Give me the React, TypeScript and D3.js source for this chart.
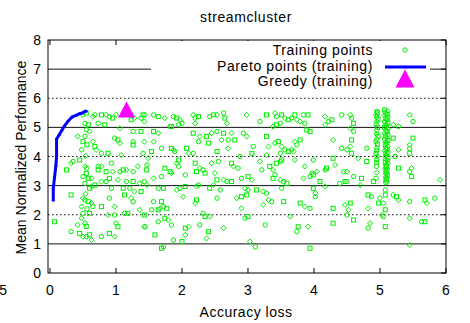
import * as d3 from 'd3';

// training points [accuracy loss, mean normalized performance]
const trainingPoints: [number, number][] = [
  [0.5, 5.43], [0.55, 5.49], [0.65, 5.37], [0.68, 5.43], [0.78, 5.43], [0.85, 5.43], [0.9, 5.37], [0.95, 5.32],
  [1.0, 5.43], [1.11, 5.43], [1.23, 5.26], [1.28, 5.32], [1.38, 5.32], [1.41, 5.43], [1.43, 5.2],
  [0.53, 5.14], [0.58, 5.09], [0.6, 4.86], [0.73, 5.14], [0.83, 5.09], [1.06, 4.97], [1.26, 4.86], [1.38, 4.86],
  [0.42, 4.69], [0.53, 4.69], [0.5, 4.51], [0.65, 4.51], [0.98, 4.63], [1.03, 4.57], [1.06, 4.46], [1.26, 4.51],
  [1.26, 4.4], [1.43, 4.51], [0.48, 4.23], [0.68, 4.34], [0.7, 4.23], [0.78, 4.11], [0.88, 4.11], [1.08, 4.05],
  [1.41, 4.11], [0.45, 3.88], [0.32, 3.77], [0.35, 3.83], [0.25, 3.54], [0.53, 3.66], [0.73, 3.66], [0.73, 3.54],
  [0.78, 3.66], [0.93, 3.77], [0.85, 3.48], [0.95, 3.48], [1.06, 3.48], [1.11, 3.54], [1.16, 3.54], [1.26, 3.48],
  [1.46, 3.54], [1.33, 3.66], [0.5, 3.31], [0.58, 3.25], [0.63, 3.25], [0.53, 3.08], [0.68, 3.02], [0.78, 3.14],
  [0.85, 3.14], [0.9, 3.25], [1.03, 3.2], [1.16, 3.14], [1.26, 3.14], [1.36, 3.08], [1.43, 3.14],
  [0.6, 2.91], [0.63, 2.97], [0.93, 2.91], [1.11, 2.91], [1.28, 2.8], [1.21, 2.91],
  [0.32, 2.68], [0.5, 2.57], [0.53, 2.51], [0.58, 2.45], [0.63, 2.4], [0.9, 2.57], [1.13, 2.68], [1.23, 2.57],
  [1.26, 2.45], [1.38, 2.8], [0.48, 2.28], [0.65, 2.28], [0.78, 2.28], [0.98, 2.28], [1.13, 2.05], [1.18, 2.05],
  [1.36, 2.17], [0.5, 2.05], [0.6, 2.05], [0.88, 1.99], [0.98, 1.99], [1.43, 1.99], [0.48, 1.88], [0.53, 1.71],
  [0.07, 1.76], [0.42, 1.65], [1.0, 1.71], [1.03, 1.59], [1.43, 1.59], [0.32, 1.42], [0.45, 1.36], [0.5, 1.25],
  [0.55, 1.25], [0.6, 1.31], [0.63, 1.13], [0.78, 1.25], [0.9, 1.36], [0.98, 1.25],
  [0.55, 4.92], [0.56, 4.4], [0.54, 4.02], [0.56, 3.6], [0.55, 3.42], [0.54, 2.72], [0.56, 2.2], [0.55, 1.6],
  [1.44, 5.43], [1.57, 5.43], [1.64, 5.37], [1.74, 5.32], [1.87, 5.37], [1.92, 5.32], [1.97, 5.26], [2.0, 5.14],
  [1.84, 5.03], [2.17, 5.43], [2.2, 5.32], [2.25, 5.37], [2.2, 5.14], [2.42, 5.37], [2.48, 5.43], [2.53, 5.43],
  [2.63, 5.49], [2.65, 5.32], [2.68, 5.14], [1.95, 5.09], [1.57, 4.86], [1.64, 4.8], [1.82, 5.03], [2.17, 4.8],
  [2.27, 4.69], [2.25, 4.51], [2.37, 4.69], [2.45, 4.8], [2.53, 4.86], [2.63, 4.8], [2.75, 4.8], [2.93, 4.8],
  [2.4, 4.46], [2.6, 4.57], [2.7, 4.57], [2.8, 4.57], [1.57, 4.51], [1.69, 4.28], [1.84, 4.28], [1.87, 4.23],
  [1.89, 4.17], [2.07, 4.28], [2.1, 4.11], [2.17, 4.11], [2.53, 4.17], [2.7, 4.28], [2.88, 4.0], [1.54, 4.17],
  [1.49, 3.94], [1.47, 3.71], [1.95, 3.88], [1.92, 3.77], [1.95, 3.66], [2.2, 3.77], [2.45, 3.77], [2.55, 3.83],
  [2.75, 3.77], [2.78, 3.66], [2.85, 3.6], [1.74, 3.6], [1.57, 3.25], [1.69, 3.31], [1.82, 3.48], [1.84, 3.43],
  [2.05, 3.37], [2.22, 3.48], [2.27, 3.6], [2.32, 3.54], [2.35, 3.43], [2.5, 3.43], [2.9, 3.25], [2.53, 3.2],
  [2.63, 3.2], [2.68, 3.14], [2.75, 3.14], [1.47, 3.02], [1.64, 2.91], [1.72, 2.91], [1.92, 2.85], [1.97, 2.91],
  [2.05, 2.97], [2.22, 2.97], [2.25, 3.02], [2.42, 2.91], [2.48, 3.02], [2.58, 2.85], [2.9, 2.62], [2.83, 2.57],
  [1.57, 2.45], [1.69, 2.45], [2.02, 2.62], [2.53, 2.57], [2.22, 2.51], [2.2, 2.4], [1.54, 2.17], [1.64, 2.17],
  [1.67, 2.22], [1.72, 2.28], [1.77, 2.22], [2.9, 2.22], [2.32, 2.05], [2.35, 1.94], [2.42, 1.94], [1.64, 1.76],
  [1.74, 1.88], [1.79, 1.82], [1.84, 1.65], [2.05, 1.54], [2.1, 1.59], [2.27, 1.65], [2.4, 1.42], [2.63, 1.54],
  [1.44, 1.59], [1.59, 1.31], [2.05, 1.31], [1.87, 1.13], [2.0, 1.08], [2.37, 1.19], [1.72, 0.9], [1.69, 0.85],
  [2.98, 5.43], [3.18, 5.2], [3.28, 5.43], [3.41, 5.49], [3.43, 5.37], [3.51, 5.43], [3.56, 5.32], [3.66, 5.32],
  [3.71, 5.43], [3.74, 5.26], [3.84, 5.43], [3.91, 5.43], [3.79, 5.2], [3.86, 5.14], [3.89, 4.91], [4.17, 5.37],
  [4.22, 5.2], [4.27, 5.26], [4.17, 5.09], [4.42, 5.43], [3.43, 5.09], [3.38, 5.03], [3.49, 5.14], [3.61, 5.26],
  [2.98, 4.69], [3.08, 4.34], [3.28, 4.69], [3.31, 4.34], [3.41, 4.46], [3.46, 4.51], [3.51, 4.34], [3.56, 4.23],
  [3.61, 4.17], [3.71, 4.51], [3.74, 4.4], [3.79, 4.57], [3.69, 4.17], [3.66, 4.23], [3.94, 4.86], [4.29, 4.57],
  [4.42, 4.28], [3.06, 4.11], [3.28, 4.05], [3.49, 4.11], [3.51, 3.88], [3.71, 3.88], [3.99, 3.88], [4.29, 3.94],
  [3.18, 3.83], [3.21, 3.54], [3.33, 3.66], [3.38, 3.54], [3.49, 3.83], [3.43, 3.77], [3.86, 3.66], [3.97, 3.43],
  [3.99, 3.37], [4.04, 3.48], [4.17, 3.54], [4.19, 3.6], [4.32, 3.71], [4.45, 3.48], [3.0, 3.31], [3.06, 3.2],
  [3.41, 3.37], [3.38, 3.25], [3.49, 3.2], [3.54, 3.14], [3.59, 3.08], [3.84, 3.25], [3.94, 3.31], [4.09, 3.14],
  [4.17, 2.97], [4.39, 3.08], [4.47, 3.14], [2.955, 2.91], [3.0, 2.85], [3.13, 2.85], [3.23, 2.8], [3.28, 2.74],
  [2.98, 2.68], [3.31, 2.51], [3.36, 2.45], [3.54, 2.45], [3.23, 2.34], [3.51, 2.91], [3.99, 2.91], [4.02, 2.74],
  [4.02, 2.62], [3.79, 2.4], [3.86, 2.28], [3.94, 2.22], [4.29, 2.22], [4.47, 2.34], [2.955, 1.88], [3.0, 1.94],
  [3.64, 1.94], [3.26, 1.65], [3.76, 1.59], [3.91, 1.59], [3.74, 1.42], [4.29, 1.71], [3.03, 1.08], [3.11, 0.9],
  [3.94, 0.85],
  [4.55, 5.43], [4.57, 5.32], [4.6, 5.14], [4.55, 4.97], [4.6, 4.86], [4.57, 4.57], [4.55, 4.34], [4.5, 4.23],
  [4.57, 4.11], [4.67, 3.94], [4.8, 4.28], [4.8, 3.83], [4.5, 3.48], [4.6, 3.31], [4.72, 3.25], [4.7, 3.02],
  [4.5, 3.14], [4.9, 3.14], [5.2, 5.09], [5.28, 5.03], [5.2, 4.63], [5.28, 4.23], [5.23, 4.0], [5.28, 3.6],
  [5.45, 5.43], [5.5, 5.2], [5.5, 4.63], [5.45, 4.4], [5.45, 4.28], [5.45, 4.11], [5.48, 3.6], [5.45, 3.48],
  [5.48, 3.31], [5.91, 3.2], [4.95, 3.66], [4.82, 2.68], [4.82, 2.22], [4.87, 2.62], [4.98, 2.4], [5.0, 2.57],
  [5.08, 2.85], [5.08, 2.68], [5.05, 2.4], [5.2, 2.68], [5.25, 2.62], [5.28, 2.51], [5.45, 2.45], [5.68, 2.51],
  [5.71, 2.4], [5.83, 2.57], [4.55, 2.4], [4.52, 2.17], [4.5, 1.99], [4.6, 1.82], [5.03, 1.99], [5.05, 1.94],
  [5.08, 2.17], [4.85, 1.71], [4.82, 1.54], [5.08, 1.59], [5.45, 1.88], [5.63, 1.76], [5.68, 1.76], [5.45, 0.96],
  // column near 4.95
  [4.95, 5.55], [4.96, 5.5], [4.94, 5.42], [4.95, 5.35], [4.97, 5.28], [4.95, 5.2], [4.94, 5.1], [4.96, 5.0],
  [4.95, 4.9], [4.95, 4.78], [4.97, 4.7], [4.95, 4.6], [4.94, 4.5], [4.96, 4.42], [4.95, 4.3], [4.95, 4.2],
  [4.94, 4.1], [4.96, 4.0], [4.95, 3.9], [4.95, 3.8], [4.95, 3.45], [4.94, 3.25],
  // dense column near 5.1
  [5.07, 5.6], [5.12, 5.55], [5.08, 5.5], [5.11, 5.45], [5.07, 5.4], [5.12, 5.35], [5.09, 5.3], [5.11, 5.25],
  [5.07, 5.2], [5.12, 5.15], [5.09, 5.1], [5.1, 5.05], [5.07, 5.0], [5.12, 4.95], [5.09, 4.9], [5.11, 4.85],
  [5.07, 4.8], [5.12, 4.75], [5.08, 4.7], [5.11, 4.65], [5.07, 4.6], [5.12, 4.55], [5.09, 4.5], [5.1, 4.45],
  [5.08, 4.4], [5.12, 4.35], [5.09, 4.3], [5.11, 4.25], [5.07, 4.2], [5.12, 4.15], [5.09, 4.1], [5.1, 4.05],
  [5.08, 4.0], [5.12, 3.95], [5.09, 3.9], [5.11, 3.85], [5.08, 3.8], [5.12, 3.75], [5.09, 3.7], [5.1, 3.65],
  [5.08, 3.6], [5.11, 3.55], [5.09, 3.5], [5.1, 3.45], [5.09, 3.4], [5.11, 3.35], [5.09, 3.3], [5.1, 3.25],
  [5.09, 3.2], [5.1, 3.15], [5.09, 3.1],
];

const paretoX = [0.05, 0.05, 0.07, 0.09, 0.1, 0.1, 0.14, 0.18, 0.22, 0.27, 0.33, 0.4, 0.45, 0.5, 0.53, 0.55];
const paretoY = [2.5, 2.9, 3.3, 3.7, 4.0, 4.6, 4.75, 4.9, 5.05, 5.2, 5.35, 5.42, 5.47, 5.5, 5.55, 5.55];
const greedy: [number, number] = [1.16, 5.5];

const xTicks = [0, 1, 2, 3, 4, 5, 6];
const yTicks = [0, 1, 2, 3, 4, 5, 6, 7, 8];

const W = 470;
const H = 323;
const left = 48, right = 446, top = 40, bottom = 273;
const green = '#00ee00';
const font = '"Liberation Sans", Arial, sans-serif';

const x = d3.scaleLinear().domain([-0.03, 6]).range([left, right]);
const y = d3.scaleLinear().domain([0, 8]).range([bottom, top]);

const marker = (px: number, py: number, i: number) => {
  const k = i % 3;
  if (k === 0) return <circle key={i} cx={px} cy={py} r={2.2} fill="none" stroke={green} strokeWidth={1} />;
  if (k === 1) return <rect key={i} x={px - 2} y={py - 2} width={4} height={4} fill="none" stroke={green} strokeWidth={1} />;
  return <path key={i} d={`M${px},${py - 2.6}L${px + 2.6},${py}L${px},${py + 2.6}L${px - 2.6},${py}Z`} fill="none" stroke={green} strokeWidth={1} />;
};

const tri = (cx: number, cy: number, s: number) =>
  `M${cx},${cy - s * 0.55}L${cx + s / 2},${cy + s * 0.4}L${cx - s / 2},${cy + s * 0.4}Z`;

export default function App() {
  const pareto = paretoX.map((v, i) => [v, paretoY[i]] as [number, number]);
  const line = d3.line<[number, number]>().x(d => x(d[0])).y(d => y(d[1]));

  // legend box
  const lg = { x0: 151, x1: 430, y0: 41, y1: 91 };
  const ls = 0.6;

  return (
    <svg width={W} height={H} style={{ position: 'absolute', left: 0, top: 0, background: '#fff' }} fontFamily={font}>
      <text x={246} y={22} textAnchor="middle" fontSize={14} letterSpacing={ls}>streamcluster</text>

      {/* grid */}
      {yTicks.filter(t => t > 0 && t < 8).map(t => (
        <line key={t} x1={left} x2={right} y1={y(t)} y2={y(t)} stroke="#111"
          strokeWidth={1} strokeDasharray={t % 2 === 0 ? '1.5,2.5' : undefined} />
      ))}

      {trainingPoints.map((d, i) => marker(x(d[0]), y(d[1]), i))}

      <path d={line(pareto) || ''} fill="none" stroke="#0000ff" strokeWidth={3} strokeLinejoin="round" />
      {pareto.map((d, i) => <circle key={i} cx={x(d[0])} cy={y(d[1])} r={1.5} fill="#0000ff" />)}

      <path d={tri(x(greedy[0]), y(greedy[1]) - 2, 17)} fill="#ff00ff" />

      {/* ticks */}
      {xTicks.map(t => (
        <g key={t}>
          <line x1={x(t)} x2={x(t)} y1={bottom} y2={bottom - 5} stroke="#000" />
          <line x1={x(t)} x2={x(t)} y1={top} y2={top + 5} stroke="#000" />
          <text x={x(t)} y={295} textAnchor="middle" fontSize={14}>{t}</text>
        </g>
      ))}
      <text x={7} y={295} textAnchor="end" fontSize={14}>-0.5</text>
      {yTicks.map(t => (
        <g key={t}>
          <line x1={right} x2={right - 5} y1={y(t)} y2={y(t)} stroke="#000" />
          <text x={41} y={y(t) + 5} textAnchor="end" fontSize={14}>{t}</text>
        </g>
      ))}

      {/* legend */}
      <rect x={lg.x0} y={lg.y0} width={lg.x1 - lg.x0} height={lg.y1 - lg.y0} fill="#fff" />
      <text x={373} y={55} textAnchor="end" fontSize={14} letterSpacing={ls}>Training points</text>
      <circle cx={405} cy={50} r={2.2} fill="none" stroke={green} strokeWidth={1} />
      <text x={373} y={71} textAnchor="end" fontSize={14} letterSpacing={ls}>Pareto points (training)</text>
      <line x1={385} x2={426} y1={67} y2={67} stroke="#0000ff" strokeWidth={3} />
      <circle cx={405} cy={67} r={1.5} fill="#0000ff" />
      <text x={373} y={86} textAnchor="end" fontSize={14} letterSpacing={ls}>Greedy (training)</text>
      <path d={tri(405, 80, 19)} fill="#ff00ff" />

      <rect x={left} y={top} width={right - left} height={bottom - top} fill="none" stroke="#000" strokeWidth={1} />

      <text transform={`translate(26,${(top + bottom) / 2 + 1}) rotate(-90)`} textAnchor="middle" fontSize={14}>
        Mean Normalized Performance
      </text>
      <text x={246} y={317} textAnchor="middle" fontSize={14} letterSpacing={0.5}>Accuracy loss</text>
    </svg>
  );
}
